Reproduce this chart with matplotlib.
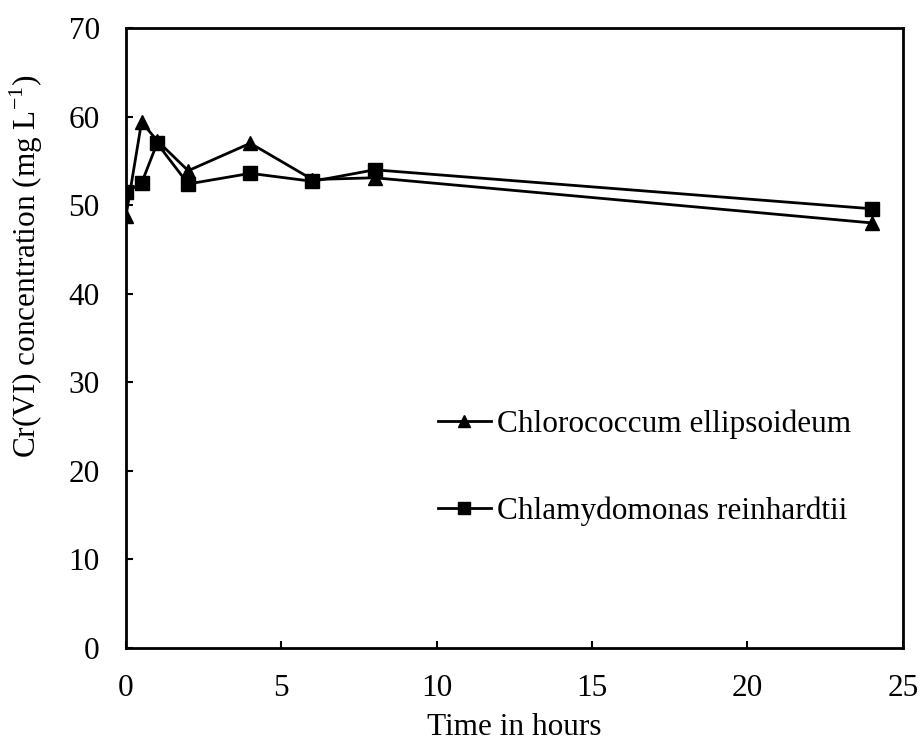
import matplotlib.pyplot as plt

plt.rcParams['font.family'] = ['Liberation Serif', 'DejaVu Serif']
plt.rcParams['mathtext.fontset'] = 'custom'
plt.rcParams['mathtext.rm'] = 'Liberation Serif'

# Data
time_h = [0, 0.5, 1, 2, 4, 6, 8, 24]
chlorococcum = [48.8, 59.4, 57.3, 53.9, 57.0, 52.9, 53.1, 48.0]
chlamydomonas = [51.5, 52.5, 57.0, 52.4, 53.6, 52.7, 54.0, 49.6]
labels = ['Chlorococcum ellipsoideum', 'Chlamydomonas reinhardtii']

fig = plt.figure(figsize=(9.22, 7.42), dpi=100)
ax = fig.add_axes([0.1367, 0.127, 0.8425, 0.835])

ax.plot(time_h, chlorococcum, color='black', lw=2, marker='^', ms=10.5, label=labels[0])
ax.plot(time_h, chlamydomonas, color='black', lw=2, marker='s', ms=10, label=labels[1])

ax.set_xlim(0, 25)
ax.set_ylim(0, 70)
ax.set_xticks(range(0, 26, 5))
ax.set_yticks(range(0, 71, 10))
ax.tick_params(direction='in', length=5, width=1.5, labelsize=22.5, pad=19)
for s in ax.spines.values():
    s.set_linewidth(2)

ax.set_xlabel('Time in hours', fontsize=22.5, labelpad=7)
ax.set_ylabel('Cr(VI) concentration (mg L$^{\\mathregular{-1}}$)', fontsize=22.5)
# the y label sits above the axes centre in the original
ax.yaxis.set_label_coords(-0.104, 0.615)

ax.legend(loc='center left', bbox_to_anchor=(0.365, 0.291), frameon=False, fontsize=22.5,
          labelspacing=1.84, handlelength=1.7, handletextpad=0.2, markerscale=0.85)

fig.savefig('out.png', dpi=100)
